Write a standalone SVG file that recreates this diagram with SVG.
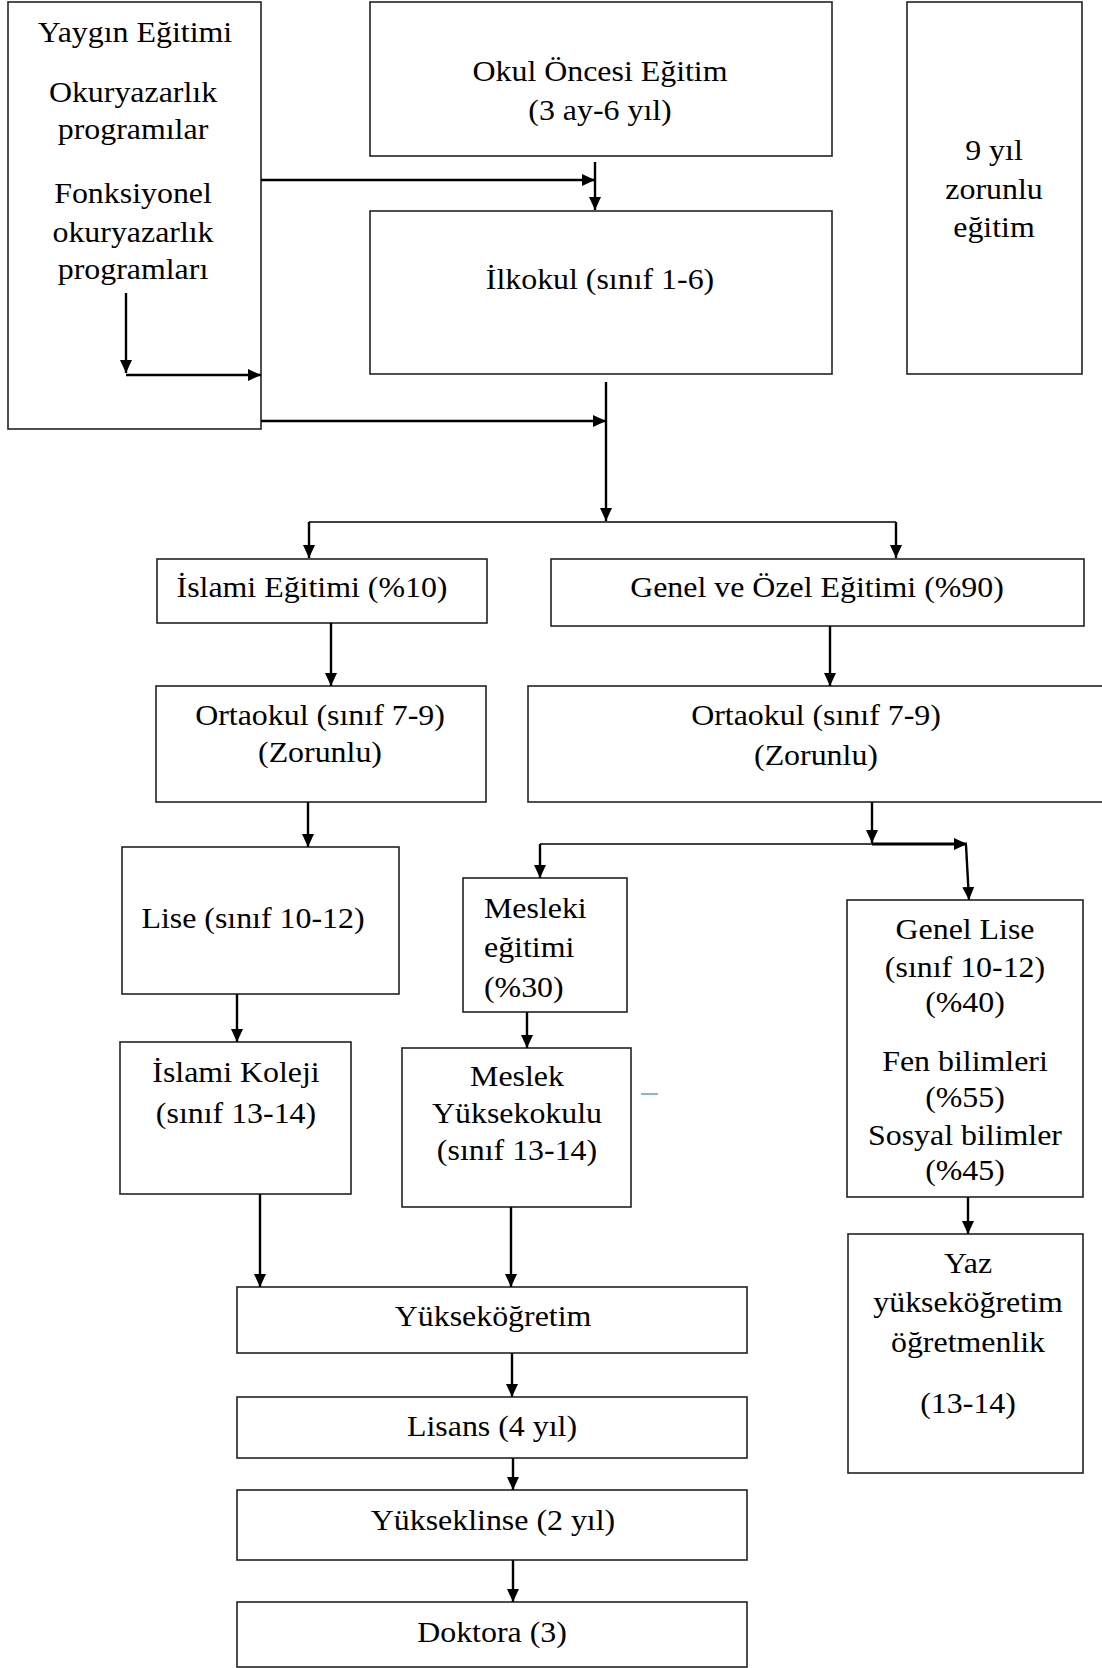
<svg xmlns="http://www.w3.org/2000/svg" width="1102" height="1668" viewBox="0 0 1102 1668">
<style>
.box{fill:#fff;stroke:#222;stroke-width:1.6}
.t{font-family:"Liberation Serif","Times New Roman",serif;font-size:29px;fill:#000;text-anchor:middle}
.s{text-anchor:start}
.c{stroke:#000;stroke-width:2.4;fill:none}
.ca{stroke:#000;stroke-width:2.4;fill:none;marker-end:url(#ah)}
.thin{stroke:#000;stroke-width:1.6;fill:none}
</style>
<defs>
<marker id="ah" markerUnits="userSpaceOnUse" markerWidth="14" markerHeight="12" refX="13" refY="6" orient="auto">
<path d="M0,0 L13,6 L0,12 z" fill="#000"/>
</marker>
</defs>
<rect width="1102" height="1668" fill="#fff"/>

<g id="yaygin">
<rect class="box" x="8" y="2" width="253" height="427"/>
<text class="t" transform="translate(135,42) scale(1.1,1)">Yaygın Eğitimi</text>
<text class="t" transform="translate(133,102) scale(1.1,1)">Okuryazarlık</text>
<text class="t" transform="translate(133,139) scale(1.1,1)">programılar</text>
<text class="t" transform="translate(133,203) scale(1.1,1)">Fonksiyonel</text>
<text class="t" transform="translate(133,242) scale(1.1,1)">okuryazarlık</text>
<text class="t" transform="translate(133,279) scale(1.1,1)">programları</text>
</g>

<g id="okuloncesi">
<rect class="box" x="370" y="2" width="462" height="154"/>
<text class="t" transform="translate(600,81) scale(1.1,1)">Okul Öncesi Eğitim</text>
<text class="t" transform="translate(600,120) scale(1.1,1)">(3 ay-6 yıl)</text>
</g>

<g id="ilkokul">
<rect class="box" x="370" y="211" width="462" height="163"/>
<text class="t" transform="translate(600,289) scale(1.1,1)">İlkokul (sınıf 1-6)</text>
</g>

<g id="zorunlu">
<rect class="box" x="907" y="2" width="175" height="372"/>
<text class="t" transform="translate(994,160) scale(1.1,1)">9 yıl</text>
<text class="t" transform="translate(994,199) scale(1.1,1)">zorunlu</text>
<text class="t" transform="translate(994,237) scale(1.1,1)">eğitim</text>
</g>

<g id="islami-egitimi">
<rect class="box" x="157" y="559" width="330" height="64"/>
<text class="t" transform="translate(312,597) scale(1.1,1)">İslami Eğitimi (%10)</text>
</g>

<g id="genel-ozel">
<rect class="box" x="551" y="559" width="533" height="67"/>
<text class="t" transform="translate(817,597) scale(1.1,1)">Genel ve Özel Eğitimi (%90)</text>
</g>

<g id="ortaokul-sol">
<rect class="box" x="156" y="686" width="330" height="116"/>
<text class="t" transform="translate(320,725) scale(1.1,1)">Ortaokul (sınıf 7-9)</text>
<text class="t" transform="translate(320,762) scale(1.1,1)">(Zorunlu)</text>
</g>

<g id="ortaokul-sag">
<rect class="box" x="528" y="686" width="590" height="116"/>
<text class="t" transform="translate(816,725) scale(1.1,1)">Ortaokul (sınıf 7-9)</text>
<text class="t" transform="translate(816,765) scale(1.1,1)">(Zorunlu)</text>
</g>

<g id="lise">
<rect class="box" x="122" y="847" width="277" height="147"/>
<text class="t" transform="translate(253,928) scale(1.1,1)">Lise (sınıf 10-12)</text>
</g>

<g id="mesleki">
<rect class="box" x="463" y="878" width="164" height="134"/>
<text class="t s" transform="translate(484,918) scale(1.1,1)">Mesleki</text>
<text class="t s" transform="translate(484,957) scale(1.1,1)">eğitimi</text>
<text class="t s" transform="translate(484,997) scale(1.1,1)">(%30)</text>
</g>

<g id="genel-lise">
<rect class="box" x="847" y="900" width="236" height="297"/>
<text class="t" transform="translate(965,939) scale(1.1,1)">Genel Lise</text>
<text class="t" transform="translate(965,977) scale(1.1,1)">(sınıf 10-12)</text>
<text class="t" transform="translate(965,1012) scale(1.1,1)">(%40)</text>
<text class="t" transform="translate(965,1071) scale(1.1,1)">Fen bilimleri</text>
<text class="t" transform="translate(965,1107) scale(1.1,1)">(%55)</text>
<text class="t" transform="translate(965,1145) scale(1.1,1)">Sosyal bilimler</text>
<text class="t" transform="translate(965,1180) scale(1.1,1)">(%45)</text>
</g>

<g id="islami-koleji">
<rect class="box" x="120" y="1042" width="231" height="152"/>
<text class="t" transform="translate(236,1082) scale(1.1,1)">İslami Koleji</text>
<text class="t" transform="translate(236,1123) scale(1.1,1)">(sınıf 13-14)</text>
</g>

<g id="meslek-yuksekokulu">
<rect class="box" x="402" y="1048" width="229" height="159"/>
<text class="t" transform="translate(517,1086) scale(1.1,1)">Meslek</text>
<text class="t" transform="translate(517,1123) scale(1.1,1)">Yüksekokulu</text>
<text class="t" transform="translate(517,1160) scale(1.1,1)">(sınıf 13-14)</text>
</g>

<g id="yaz">
<rect class="box" x="848" y="1234" width="235" height="239"/>
<text class="t" transform="translate(968,1273) scale(1.1,1)">Yaz</text>
<text class="t" transform="translate(968,1312) scale(1.1,1)">yükseköğretim</text>
<text class="t" transform="translate(968,1352) scale(1.1,1)">öğretmenlik</text>
<text class="t" transform="translate(968,1413) scale(1.1,1)">(13-14)</text>
</g>

<g id="yuksekogretim">
<rect class="box" x="237" y="1287" width="510" height="66"/>
<text class="t" transform="translate(493,1326) scale(1.1,1)">Yükseköğretim</text>
</g>

<g id="lisans">
<rect class="box" x="237" y="1397" width="510" height="61"/>
<text class="t" transform="translate(492,1436) scale(1.1,1)">Lisans (4 yıl)</text>
</g>

<g id="yukseklisans">
<rect class="box" x="237" y="1490" width="510" height="70"/>
<text class="t" transform="translate(493,1530) scale(1.1,1)">Yükseklinse (2 yıl)</text>
</g>

<g id="doktora">
<rect class="box" x="237" y="1602" width="510" height="65"/>
<text class="t" transform="translate(492,1642) scale(1.1,1)">Doktora (3)</text>
</g>

<g id="connectors">
<line class="ca" x1="261" y1="180" x2="595" y2="180"/>
<line class="ca" x1="595" y1="162" x2="595" y2="210"/>
<line class="ca" x1="126" y1="293" x2="126" y2="373"/>
<line class="ca" x1="126" y1="375" x2="261" y2="375"/>
<line class="ca" x1="261" y1="421" x2="606" y2="421"/>
<line class="ca" x1="606" y1="382" x2="606" y2="521"/>
<line class="thin" x1="309" y1="522" x2="896" y2="522"/>
<line class="ca" x1="309" y1="522" x2="309" y2="558"/>
<line class="ca" x1="896" y1="522" x2="896" y2="558"/>
<line class="ca" x1="331" y1="623" x2="331" y2="686"/>
<line class="ca" x1="830" y1="626" x2="830" y2="686"/>
<line class="ca" x1="308" y1="802" x2="308" y2="847"/>
<line class="ca" x1="872" y1="802" x2="872" y2="843"/>
<line class="thin" x1="540" y1="844" x2="872" y2="844"/>
<line class="ca" x1="872" y1="844" x2="967" y2="844" style="stroke-width:3"/>
<line class="ca" x1="540" y1="844" x2="540" y2="878"/>
<line class="ca" x1="966" y1="845" x2="969" y2="900"/>
<line class="ca" x1="237" y1="994" x2="237" y2="1042"/>
<line class="ca" x1="527" y1="1012" x2="527" y2="1048"/>
<line class="ca" x1="260" y1="1194" x2="260" y2="1287"/>
<line class="ca" x1="511" y1="1207" x2="511" y2="1287"/>
<line class="ca" x1="968" y1="1197" x2="968" y2="1234"/>
<line class="ca" x1="512" y1="1353" x2="512" y2="1397"/>
<line class="ca" x1="513" y1="1458" x2="513" y2="1490"/>
<line class="ca" x1="513" y1="1560" x2="513" y2="1602"/>
</g>
<line x1="641" y1="1094" x2="658" y2="1094" stroke="#5B9BD5" stroke-width="1.5"/>
</svg>
